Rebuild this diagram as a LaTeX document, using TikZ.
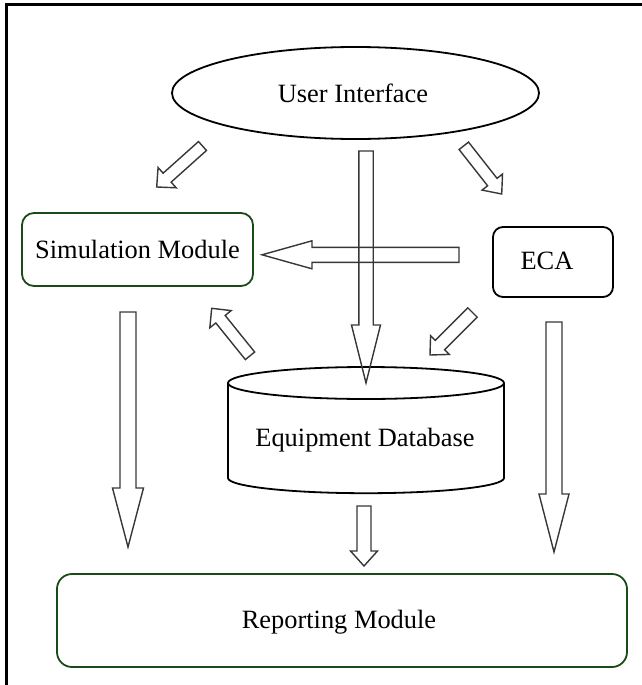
\documentclass[tikz,border=0pt]{standalone}
\usepackage{fontspec}
\setmainfont{Liberation Serif}
\usetikzlibrary{calc,shapes.geometric}
\definecolor{boxgreen}{RGB}{25,75,25}
\definecolor{arrgray}{RGB}{55,55,55}
\tikzset{
  framebar/.style={line width=1.65pt,black},
  modbox/.style={draw=boxgreen,line width=0.9pt,rectangle,inner sep=0pt},
  ecabox/.style={draw=black,line width=0.9pt,rectangle,inner sep=0pt},
  uishape/.style={draw=black,line width=0.9pt,ellipse,inner sep=0pt},
  dbline/.style={draw=black,line width=0.9pt},
  blockarr/.style={draw=arrgray,line width=0.7pt,line join=miter},
  lbl/.style={font=\fontsize{13.2pt}{15pt}\selectfont,inner sep=0pt}
}
\newcommand{\blockarrow}[5]{%
  \path ($(#2)!#5!(#1)$) coordinate (bb);
  \draw[blockarr] ($(#1)!#3!90:(#2)$) -- ($(bb)!#3!90:(#2)$) -- ($(bb)!#4!90:(#2)$) -- (#2)
    -- ($(bb)!#4!-90:(#2)$) -- ($(bb)!#3!-90:(#2)$) -- ($(#1)!#3!-90:(#2)$) -- cycle;}
\begin{document}
\begin{tikzpicture}[x=0.5pt,y=-0.5pt]
\useasboundingbox (0,0) rectangle (642,685);
% frame
\draw[framebar] (6.6,685) -- (6.6,4.3) -- (642,4.3);
% nodes
\node[uishape,minimum width=183.5pt,minimum height=46pt] (ui) at (355.5,93) {};
\node[lbl] (uit) at (353,93) {User Interface};
\node[modbox,rounded corners=6pt,minimum width=115.5pt,minimum height=36.5pt,lbl] (sim) at (137.5,249.5) {Simulation Module};
\node[ecabox,rounded corners=5pt,minimum width=60pt,minimum height=35pt] (eca) at (553,262) {};
\node[lbl] (ecat) at (547,261) {ECA};
\node[modbox,rounded corners=7.5pt,minimum width=285pt,minimum height=46.5pt,lbl] (rep) at (342,620.5) {};
\node[lbl] (rept) at (339,622) {Reporting Module};
% database cylinder
\coordinate (dbtl) at (228,383);
\coordinate (dbtr) at (504,383);
\coordinate (dbbl) at (228,478);
\coordinate (dbbr) at (504,478);
\draw[dbline] (dbtl) -- (dbbl) arc[start angle=180,end angle=360,x radius=69pt,y radius=7.6pt] -- (dbtr);
\draw[dbline] (366,383) ellipse[x radius=69pt,y radius=8pt];
\node[lbl] (db) at (365,440) {Equipment Database};
% block arrows
\coordinate (a1t) at (202.5,146);   \coordinate (a1h) at (156.7,187);
\coordinate (a2t) at (463.8,145.8); \coordinate (a2h) at (501.7,194);
\coordinate (a3t) at (366,151);     \coordinate (a3h) at (366,383);
\coordinate (a4t) at (459,254.8);   \coordinate (a4h) at (262,254.8);
\coordinate (a5t) at (250,355.8);   \coordinate (a5h) at (211.7,308.3);
\coordinate (a6t) at (472.5,312.5); \coordinate (a6h) at (430,355);
\coordinate (a7t) at (128,312);     \coordinate (a7h) at (128,547);
\coordinate (a8t) at (554,322);     \coordinate (a8h) at (554,552);
\coordinate (a9t) at (364,506);     \coordinate (a9h) at (364,566);
\blockarrow{a1t}{a1h}{3pt}{6.8pt}{7pt}
\blockarrow{a2t}{a2h}{3pt}{6.5pt}{7.6pt}
\blockarrow{a3t}{a3h}{3.6pt}{7.25pt}{29pt}
\blockarrow{a4t}{a4h}{3.75pt}{7pt}{25pt}
\blockarrow{a5t}{a5h}{3pt}{6.85pt}{7pt}
\blockarrow{a6t}{a6h}{3.3pt}{6.6pt}{7pt}
\blockarrow{a7t}{a7h}{4pt}{7.75pt}{29.5pt}
\blockarrow{a8t}{a8h}{4pt}{7.5pt}{29pt}
\blockarrow{a9t}{a9h}{3.5pt}{6.75pt}{7.5pt}
\end{tikzpicture}
\end{document}
